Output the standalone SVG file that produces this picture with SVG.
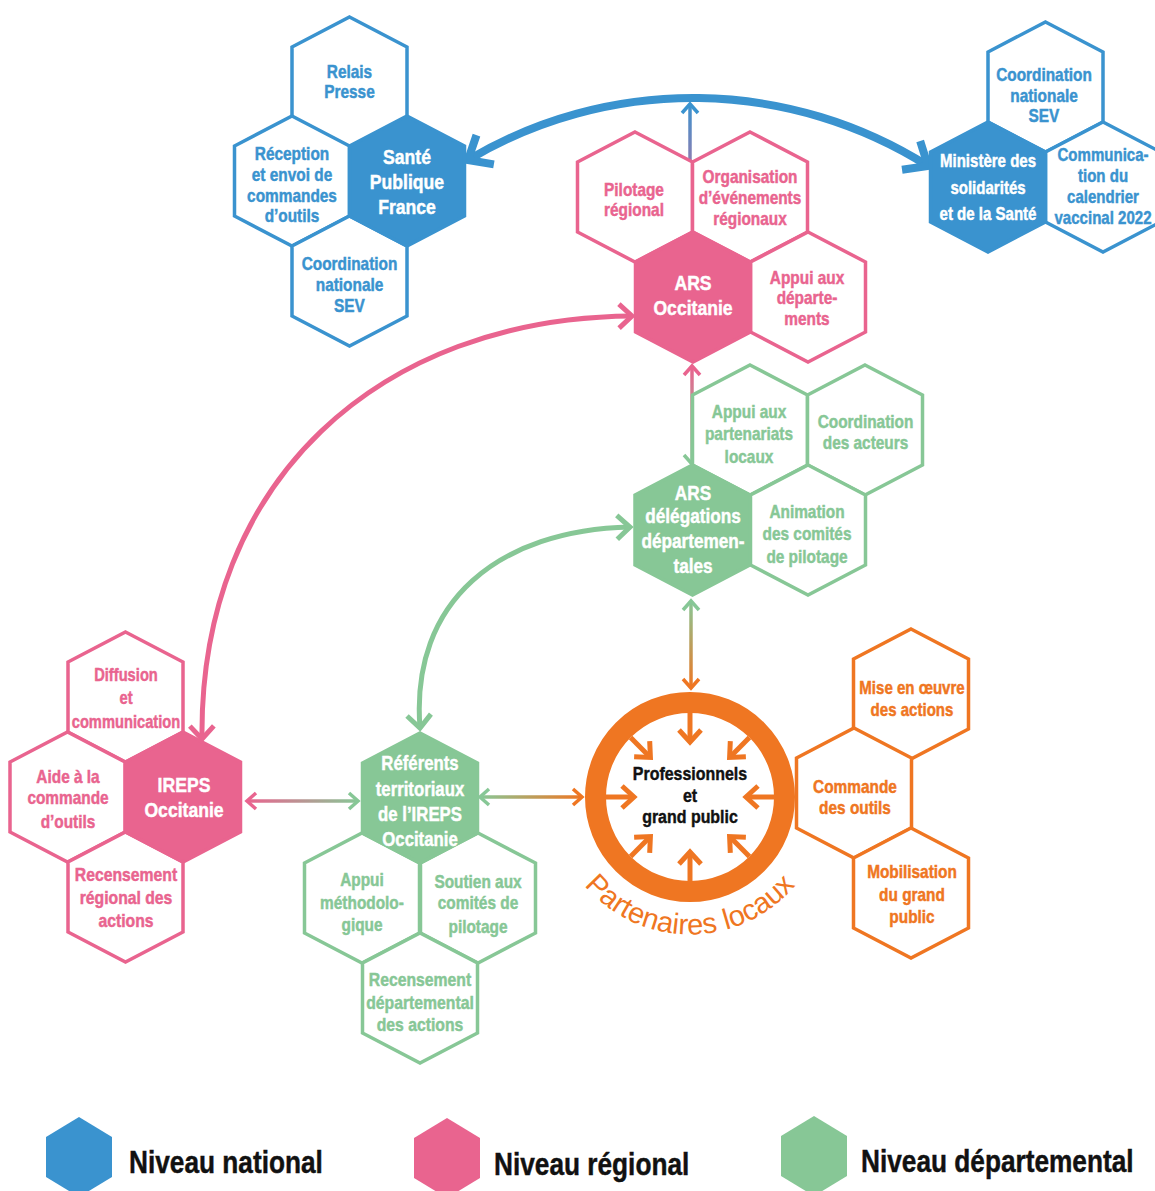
<svg xmlns="http://www.w3.org/2000/svg" width="1155" height="1191" viewBox="0 0 1155 1191">
<style>
text{font-family:"Liberation Sans",Arial,sans-serif;font-weight:bold;text-anchor:middle;stroke-width:.45px}
.t{font-size:17.5px}
.tw{font-size:20px;fill:#fff;stroke:#fff}
.cb{fill:#3a93cf;stroke:#3a93cf}.cp{fill:#e9648f;stroke:#e9648f}.cg{fill:#87c796;stroke:#87c796}.co{fill:#ef7622;stroke:#ef7622}
.hb{fill:#fff;stroke:#3a93cf;stroke-width:3.5}
.hp{fill:#fff;stroke:#e9648f;stroke-width:3.5}
.hg{fill:#fff;stroke:#87c796;stroke-width:3.5}
.ho{fill:#fff;stroke:#ef7622;stroke-width:3.5}
.fb{fill:#3a93cf;stroke:#3a93cf;stroke-width:3.5}
.fp{fill:#e9648f;stroke:#e9648f;stroke-width:3.5}
.fg{fill:#87c796;stroke:#87c796;stroke-width:3.5}
.thin{fill:none;stroke-width:3.5}
.leg{font-size:32px;fill:#111;stroke:#111;text-anchor:start}
.lb{fill:#3a93cf}.lp{fill:#e9648f}.lg{fill:#87c796}
</style>
<defs>
<polygon id="hex" points="0,-65 57.5,-35 57.5,35 0,65 -57.5,35 -57.5,-35"/>
<polygon id="lhex" points="0,-40 33,-20 33,20 0,40 -33,20 -33,-20"/>
<marker id="aBlueL" markerUnits="userSpaceOnUse" markerWidth="60" markerHeight="60" viewBox="-30 -30 60 60" refX="0" refY="0" orient="auto-start-reverse" overflow="visible"><path d="M-20,-17 L0,0 L-20,17" fill="none" stroke="#3a93cf" stroke-width="8"/></marker>
<marker id="aBlueS" markerUnits="userSpaceOnUse" markerWidth="30" markerHeight="30" viewBox="-15 -15 30 30" refX="0" refY="0" orient="auto-start-reverse" overflow="visible"><path d="M-9,-8 L0,0 L-9,8" fill="none" stroke="#3a93cf" stroke-width="3.5"/></marker>
<marker id="aPinkS" markerUnits="userSpaceOnUse" markerWidth="30" markerHeight="30" viewBox="-15 -15 30 30" refX="0" refY="0" orient="auto-start-reverse" overflow="visible"><path d="M-9,-8 L0,0 L-9,8" fill="none" stroke="#e9648f" stroke-width="3.5"/></marker>
<marker id="aGreenS" markerUnits="userSpaceOnUse" markerWidth="30" markerHeight="30" viewBox="-15 -15 30 30" refX="0" refY="0" orient="auto-start-reverse" overflow="visible"><path d="M-9,-8 L0,0 L-9,8" fill="none" stroke="#87c796" stroke-width="3.5"/></marker>
<marker id="aOrangeS" markerUnits="userSpaceOnUse" markerWidth="30" markerHeight="30" viewBox="-15 -15 30 30" refX="0" refY="0" orient="auto-start-reverse" overflow="visible"><path d="M-9,-8 L0,0 L-9,8" fill="none" stroke="#ef7622" stroke-width="3.5"/></marker>
<marker id="aPinkM" markerUnits="userSpaceOnUse" markerWidth="40" markerHeight="40" viewBox="-20 -20 40 40" refX="0" refY="0" orient="auto-start-reverse" overflow="visible"><path d="M-13,-12 L0,0 L-13,12" fill="none" stroke="#e9648f" stroke-width="5"/></marker>
<marker id="aGreenM" markerUnits="userSpaceOnUse" markerWidth="40" markerHeight="40" viewBox="-20 -20 40 40" refX="0" refY="0" orient="auto-start-reverse" overflow="visible"><path d="M-13,-12 L0,0 L-13,12" fill="none" stroke="#87c796" stroke-width="5"/></marker>
<marker id="aOrangeM" markerUnits="userSpaceOnUse" markerWidth="40" markerHeight="40" viewBox="-20 -20 40 40" refX="0" refY="0" orient="auto" overflow="visible"><path d="M-12,-11 L0,0 L-12,11" fill="none" stroke="#ef7622" stroke-width="5"/></marker>
<linearGradient id="gBP" gradientUnits="userSpaceOnUse" x1="0" y1="103" x2="0" y2="230"><stop offset="0" stop-color="#3a93cf"/><stop offset="1" stop-color="#e9648f"/></linearGradient>
<linearGradient id="gPGv" gradientUnits="userSpaceOnUse" x1="0" y1="366" x2="0" y2="464"><stop offset="0" stop-color="#e9648f"/><stop offset="1" stop-color="#87c796"/></linearGradient>
<linearGradient id="gGOv" gradientUnits="userSpaceOnUse" x1="0" y1="601" x2="0" y2="688"><stop offset="0" stop-color="#87c796"/><stop offset="1" stop-color="#ef7622"/></linearGradient>
<linearGradient id="gPGh" gradientUnits="userSpaceOnUse" x1="247" y1="0" x2="358" y2="0"><stop offset="0" stop-color="#e9648f"/><stop offset="1" stop-color="#87c796"/></linearGradient>
<linearGradient id="gGOh" gradientUnits="userSpaceOnUse" x1="480" y1="0" x2="582" y2="0"><stop offset="0" stop-color="#87c796"/><stop offset="1" stop-color="#ef7622"/></linearGradient>
<path id="arcText" d="M554.2,821.0 A138,138 0 0 0 825.8,821.0"/>
</defs>
<rect width="1155" height="1191" fill="#fff"/>

<g id="connectors">
<path d="M468,160 A440,440 0 0 1 928,166" fill="none" stroke="#3a93cf" stroke-width="8" marker-start="url(#aBlueL)" marker-end="url(#aBlueL)"/>
<line x1="690" y1="104" x2="690" y2="229" class="thin" stroke="url(#gBP)" marker-start="url(#aBlueS)" marker-end="url(#aPinkS)"/>
<path d="M202,739 C199,480 380,318 632,316" fill="none" stroke="#e9648f" stroke-width="5" marker-start="url(#aPinkM)" marker-end="url(#aPinkM)"/>
<path d="M420,728 C410,600 500,530 630,527" fill="none" stroke="#87c796" stroke-width="5" marker-start="url(#aGreenM)" marker-end="url(#aGreenM)"/>
<line x1="692" y1="366" x2="692" y2="464" class="thin" stroke="url(#gPGv)" marker-start="url(#aPinkS)" marker-end="url(#aGreenS)"/>
<line x1="691" y1="601" x2="691" y2="688" class="thin" stroke="url(#gGOv)" marker-start="url(#aGreenS)" marker-end="url(#aOrangeS)"/>
<line x1="247" y1="801" x2="358" y2="801" class="thin" stroke="url(#gPGh)" marker-start="url(#aPinkS)" marker-end="url(#aGreenS)"/>
<line x1="480" y1="797" x2="582" y2="797" class="thin" stroke="url(#gGOh)" marker-start="url(#aGreenS)" marker-end="url(#aOrangeS)"/>
</g>

<g id="relais-presse"><use href="#hex" x="349.5" y="82" class="hb"/><text class="t cb" transform="translate(349.5,0) scale(.88,1)"><tspan x="0" y="78">Relais</tspan><tspan x="0" y="98">Presse</tspan></text></g>
<g id="reception"><use href="#hex" x="292" y="181" class="hb"/><text class="t cb" transform="translate(292,0) scale(.88,1)"><tspan x="0" y="160">Réception</tspan><tspan x="0" y="181">et envoi de</tspan><tspan x="0" y="202">commandes</tspan><tspan x="0" y="222">d’outils</tspan></text></g>
<g id="coord-spf"><use href="#hex" x="349.5" y="281" class="hb"/><text class="t cb" transform="translate(349.5,0) scale(.88,1)"><tspan x="0" y="270">Coordination</tspan><tspan x="0" y="291">nationale</tspan><tspan x="0" y="312">SEV</tspan></text></g>
<g id="spf"><use href="#hex" x="407" y="181" class="fb"/><text class="tw" transform="translate(407,0) scale(.88,1)"><tspan x="0" y="164">Santé</tspan><tspan x="0" y="189">Publique</tspan><tspan x="0" y="214">France</tspan></text></g>

<g id="coord-ministere"><use href="#hex" x="1045.5" y="87" class="hb"/><text class="t cb" transform="translate(1044,0) scale(.88,1)"><tspan x="0" y="81">Coordination</tspan><tspan x="0" y="102">nationale</tspan><tspan x="0" y="122">SEV</tspan></text></g>
<g id="communication"><use href="#hex" x="1103" y="187" class="hb"/><text class="t cb" transform="translate(1103,0) scale(.86,1)"><tspan x="0" y="161">Communica-</tspan><tspan x="0" y="182">tion du</tspan><tspan x="0" y="203">calendrier</tspan><tspan x="0" y="224">vaccinal 2022</tspan></text></g>
<g id="ministere"><use href="#hex" x="988" y="187" class="fb"/><text class="t" style="fill:#fff;stroke:#fff" transform="translate(988,0) scale(.86,1)"><tspan x="0" y="167">Ministère des</tspan><tspan x="0" y="194">solidarités</tspan><tspan x="0" y="220">et de la Santé</tspan></text></g>

<g id="pilotage"><use href="#hex" x="635" y="197" class="hp"/><text class="t cp" transform="translate(634,0) scale(.88,1)"><tspan x="0" y="196">Pilotage</tspan><tspan x="0" y="216">régional</tspan></text></g>
<g id="organisation"><use href="#hex" x="750" y="197" class="hp"/><text class="t cp" transform="translate(750,0) scale(.88,1)"><tspan x="0" y="183">Organisation</tspan><tspan x="0" y="204">d’événements</tspan><tspan x="0" y="225">régionaux</tspan></text></g>
<g id="appui-departements"><use href="#hex" x="808" y="297" class="hp"/><text class="t cp" transform="translate(807,0) scale(.88,1)"><tspan x="0" y="284">Appui aux</tspan><tspan x="0" y="304">départe-</tspan><tspan x="0" y="325">ments</tspan></text></g>
<g id="ars"><use href="#hex" x="693" y="297" class="fp"/><text class="tw" transform="translate(693,0) scale(.88,1)"><tspan x="0" y="290">ARS</tspan><tspan x="0" y="315">Occitanie</tspan></text></g>

<g id="appui-partenariats"><use href="#hex" x="750" y="430" class="hg"/><text class="t cg" transform="translate(749,0) scale(.88,1)"><tspan x="0" y="418">Appui aux</tspan><tspan x="0" y="440">partenariats</tspan><tspan x="0" y="463">locaux</tspan></text></g>
<g id="coordination-acteurs"><use href="#hex" x="865" y="430" class="hg"/><text class="t cg" transform="translate(865.5,0) scale(.88,1)"><tspan x="0" y="428">Coordination</tspan><tspan x="0" y="449">des acteurs</tspan></text></g>
<g id="animation"><use href="#hex" x="808" y="530" class="hg"/><text class="t cg" transform="translate(807,0) scale(.88,1)"><tspan x="0" y="518">Animation</tspan><tspan x="0" y="540">des comités</tspan><tspan x="0" y="563">de pilotage</tspan></text></g>
<g id="ars-delegations"><use href="#hex" x="692.5" y="530" class="fg"/><text class="tw" transform="translate(693,0) scale(.86,1)"><tspan x="0" y="500">ARS</tspan><tspan x="0" y="523">délégations</tspan><tspan x="0" y="548">départemen-</tspan><tspan x="0" y="573">tales</tspan></text></g>

<g id="diffusion"><use href="#hex" x="125.5" y="697" class="hp"/><text class="t cp" transform="translate(126,0) scale(.84,1)"><tspan x="0" y="681">Diffusion</tspan><tspan x="0" y="704">et</tspan><tspan x="0" y="728">communication</tspan></text></g>
<g id="aide-commande"><use href="#hex" x="67.5" y="797" class="hp"/><text class="t cp" transform="translate(68,0) scale(.88,1)"><tspan x="0" y="783">Aide à la</tspan><tspan x="0" y="804">commande</tspan><tspan x="0" y="828">d’outils</tspan></text></g>
<g id="recensement-regional"><use href="#hex" x="125.5" y="897" class="hp"/><text class="t cp" transform="translate(126,0) scale(.9,1)"><tspan x="0" y="881">Recensement</tspan><tspan x="0" y="904">régional des</tspan><tspan x="0" y="927">actions</tspan></text></g>
<g id="ireps"><use href="#hex" x="183" y="797" class="fp"/><text class="tw" transform="translate(184,0) scale(.88,1)"><tspan x="0" y="792">IREPS</tspan><tspan x="0" y="817">Occitanie</tspan></text></g>

<g id="appui-methodo"><use href="#hex" x="362" y="898" class="hg"/><text class="t cg" transform="translate(362,0) scale(.88,1)"><tspan x="0" y="886">Appui</tspan><tspan x="0" y="909">méthodolo-</tspan><tspan x="0" y="931">gique</tspan></text></g>
<g id="soutien"><use href="#hex" x="478" y="898" class="hg"/><text class="t cg" transform="translate(478,0) scale(.88,1)"><tspan x="0" y="888">Soutien aux</tspan><tspan x="0" y="909">comités de</tspan><tspan x="0" y="933">pilotage</tspan></text></g>
<g id="recensement-departemental"><use href="#hex" x="420" y="998" class="hg"/><text class="t cg" transform="translate(420,0) scale(.9,1)"><tspan x="0" y="986">Recensement</tspan><tspan x="0" y="1009">départemental</tspan><tspan x="0" y="1031">des actions</tspan></text></g>
<g id="referents"><use href="#hex" x="420" y="798" class="fg"/><text class="tw" style="font-size:19.5px" transform="translate(420,0) scale(.86,1)"><tspan x="0" y="770">Référents</tspan><tspan x="0" y="796">territoriaux</tspan><tspan x="0" y="821">de l’IREPS</tspan><tspan x="0" y="846">Occitanie</tspan></text></g>

<g id="partenaires-locaux">
<circle cx="690" cy="797" r="94.5" fill="#fff" stroke="#ef7622" stroke-width="21"/>
<g fill="none" stroke="#ef7622" stroke-width="5">
<line x1="690" y1="713" x2="690" y2="742" marker-end="url(#aOrangeM)"/>
<line x1="690" y1="881" x2="690" y2="852" marker-end="url(#aOrangeM)"/>
<line x1="606" y1="797" x2="634" y2="797" marker-end="url(#aOrangeM)"/>
<line x1="774" y1="797" x2="746" y2="797" marker-end="url(#aOrangeM)"/>
<line x1="630.6" y1="737.6" x2="650.4" y2="757.4" marker-end="url(#aOrangeM)"/>
<line x1="749.4" y1="737.6" x2="729.6" y2="757.4" marker-end="url(#aOrangeM)"/>
<line x1="630.6" y1="856.4" x2="650.4" y2="836.6" marker-end="url(#aOrangeM)"/>
<line x1="749.4" y1="856.4" x2="729.6" y2="836.6" marker-end="url(#aOrangeM)"/>
</g>
<text style="font-size:19px;fill:#111;stroke:#111" transform="translate(690,0) scale(.84,1)"><tspan x="0" y="780">Professionnels</tspan><tspan x="0" y="802">et</tspan><tspan x="0" y="823">grand public</tspan></text>
<text style="font-weight:normal;font-size:29px;fill:#ef7622;stroke:none"><textPath href="#arcText" startOffset="50%">Partenaires locaux</textPath></text>
</g>
<g id="mise-en-oeuvre"><use href="#hex" x="911" y="694" class="ho"/><text class="t co" transform="translate(912,0) scale(.86,1)"><tspan x="0" y="694">Mise en œuvre</tspan><tspan x="0" y="716">des actions</tspan></text></g>
<g id="commande-outils"><use href="#hex" x="854" y="793" class="ho"/><text class="t co" transform="translate(855,0) scale(.88,1)"><tspan x="0" y="793">Commande</tspan><tspan x="0" y="814">des outils</tspan></text></g>
<g id="mobilisation"><use href="#hex" x="911" y="893" class="ho"/><text class="t co" transform="translate(912,0) scale(.88,1)"><tspan x="0" y="878">Mobilisation</tspan><tspan x="0" y="901">du grand</tspan><tspan x="0" y="923">public</tspan></text></g>

<g id="legend">
<g id="legend-national"><use href="#lhex" x="79" y="1157" class="lb"/><text class="leg" transform="translate(129,0) scale(.82,1)" x="0" y="1173">Niveau national</text></g>
<g id="legend-regional"><use href="#lhex" x="447" y="1158" class="lp"/><text class="leg" transform="translate(494,0) scale(.82,1)" x="0" y="1175">Niveau régional</text></g>
<g id="legend-departemental"><use href="#lhex" x="814" y="1156" class="lg"/><text class="leg" transform="translate(861,0) scale(.82,1)" x="0" y="1172">Niveau départemental</text></g>
</g>
</svg>
